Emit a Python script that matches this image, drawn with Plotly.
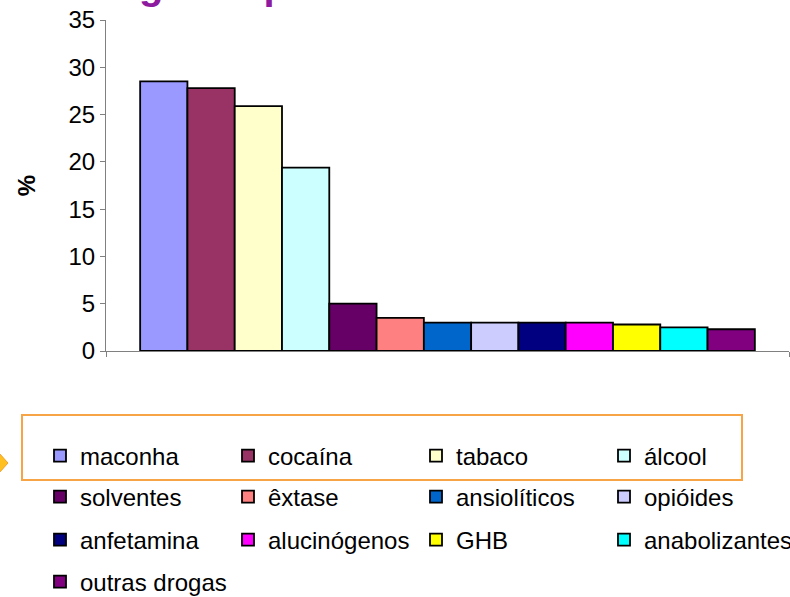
import plotly.graph_objects as go

# data
drugs = ["maconha", "cocaína", "tabaco", "álcool", "solventes", "êxtase",
         "ansiolíticos", "opióides", "anfetamina", "alucinógenos", "GHB",
         "anabolizantes", "outras drogas"]
percent = [28.5, 27.8, 25.9, 19.4, 5.0, 3.5, 3.0, 3.0, 3.0, 3.0, 2.8, 2.5, 2.3]
colors = ["#9999FF", "#993366", "#FFFFCC", "#CCFFFF", "#660066", "#FF8080",
          "#0066CC", "#CCCCFF", "#000080", "#FF00FF", "#FFFF00", "#00FFFF",
          "#800080"]
y_ticks = [0, 5, 10, 15, 20, 25, 30, 35]

W, H = 790, 597
L, R, T, B = 106, 1, 20, 246
PW, PH = W - L - R, H - T - B


def px(x):
    return (x - L) / PW


def py(y):
    return (H - B - y) / PH


fig = go.Figure()

legends = ["legend", "legend2", "legend3", "legend4"]
for i, (name, val, col) in enumerate(zip(drugs, percent, colors)):
    fig.add_trace(go.Bar(
        x=[""], y=[val], name=name,
        marker=dict(color=col, line=dict(color="black", width=1.8)),
        legend=legends[i // 4],
    ))

row_y = [456, 497, 540, 582]
leg_font = dict(family="Arial, Liberation Sans", size=24, color="black")
leg_common = dict(orientation="h", xanchor="left", yanchor="middle",
                  entrywidth=143, entrywidthmode="pixels",
                  bgcolor="rgba(0,0,0,0)", font=leg_font,
                  traceorder="normal")

fig.update_layout(
    width=W, height=H,
    margin=dict(l=L, r=R, t=T, b=B, autoexpand=False),
    paper_bgcolor="white", plot_bgcolor="white",
    barmode="group", bargap=0.1, bargroupgap=0,
    font=dict(family="Arial, Liberation Sans", color="black"),
    xaxis=dict(range=[-0.5, 0.5], showticklabels=False, ticks="outside",
               tickson="boundaries", ticklen=5, tickcolor="#808080",
               showline=True, linecolor="#808080", linewidth=1,
               showgrid=False, zeroline=False),
    yaxis=dict(range=[0, 35], tickvals=y_ticks, ticks="outside", ticklen=5,
               tickcolor="#808080", showline=True, linecolor="#808080",
               linewidth=1, showgrid=False, zeroline=False,
               tickfont=dict(size=24),
               title=dict(text="<b>%</b>", font=dict(size=24), standoff=26)),
)

for i, name in enumerate(legends):
    fig.update_layout({name: dict(leg_common, x=px(40), y=py(row_y[i]))})

# title of the slide, mostly cut off at the top edge
fig.add_annotation(text="<b>Drogas experimentadas</b>", xref="paper",
                   yref="paper", x=px(68), y=py(9), xanchor="left",
                   yanchor="bottom", showarrow=False,
                   font=dict(size=40, color="#8E1AA0"))

# orange highlight box around the first legend row and the arrow tip
fig.add_shape(type="rect", xref="paper", yref="paper",
              x0=px(22), x1=px(742), y0=py(480), y1=py(415),
              line=dict(color="#F7A446", width=2))
fig.add_shape(type="path", xref="paper", yref="paper",
              path="M {} {} L {} {} L {} {} L {} {} Z".format(
                  px(-10), py(463), px(-1), py(453), px(8), py(463),
                  px(-1), py(473)),
              fillcolor="#FFC020", line=dict(color="#F0A030", width=1))

# drop the page's default body margin so the chart sits at the window corner
fig.write_html("out.html", config={"displayModeBar": False},
               post_script="document.body.style.margin='0';")
